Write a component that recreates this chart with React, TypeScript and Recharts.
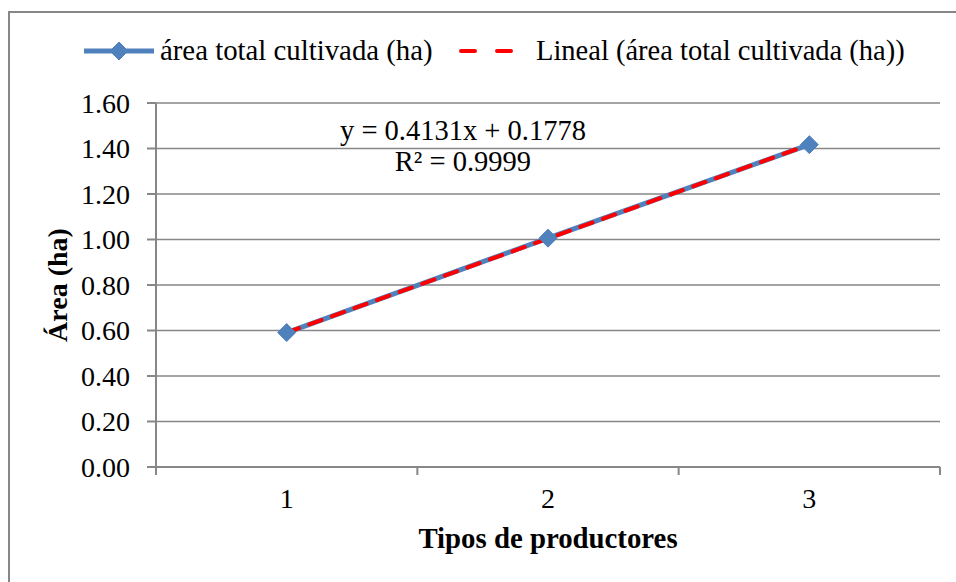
import { LineChart, Line, XAxis, YAxis, CartesianGrid, Legend } from "recharts";

// tipos de productores and their total cultivated area (ha)
const tipos = [1, 2, 3];
const areaTotal = [0.591, 1.006, 1.417];

// linear trend as reported on the chart
const trendSlope = 0.4131;
const trendIntercept = 0.1778;
const trendR2 = "0.9999";

const yTicks = [0, 0.2, 0.4, 0.6, 0.8, 1.0, 1.2, 1.4, 1.6];
const xTicks = [0.5, 1, 1.5, 2, 2.5, 3, 3.5];

const SERIES_NAME = "área total cultivada (ha)";
const TREND_NAME = "Lineal (área total cultivada (ha))";

const FONT = "'Liberation Serif', 'Times New Roman', serif";
const GRAY = "#878787";
const BLUE = "#4F81BD";
const RED = "#FF0000";

const data = tipos.map((t, i) => ({
  tipo: t,
  area: areaTotal[i],
  lineal: trendSlope * t + trendIntercept,
}));

const Diamond = ({ cx, cy, r = 9 }: { cx: number; cy: number; r?: number }) => (
  <path
    d={`M${cx},${cy - r} L${cx + r},${cy} L${cx},${cy + r} L${cx - r},${cy} Z`}
    fill={BLUE}
    stroke={BLUE}
    strokeWidth={1}
  />
);

// category labels sit on whole numbers, tick marks on the band edges
const XTick = ({ x, y, payload }: any) => {
  const v = payload.value;
  if (Number.isInteger(v)) {
    return (
      <text x={x} y={y + 41} textAnchor="middle" fontFamily={FONT} fontSize={28} fill="#000">
        {v}
      </text>
    );
  }
  return <line x1={x} y1={y} x2={x} y2={y + 8} stroke={GRAY} strokeWidth={2} />;
};

const LegendBox = () => (
  <svg width={956} height={80}>
    <line x1={84} y1={51} x2={154} y2={51} stroke={BLUE} strokeWidth={5} />
    <Diamond cx={119} cy={51} />
    <text x={160} y={60} fontFamily={FONT} fontSize={28.8} fill="#000">
      {SERIES_NAME}
    </text>
    <line
      x1={461}
      y1={51}
      x2={511}
      y2={51}
      stroke={RED}
      strokeWidth={4}
      strokeDasharray="14 22"
      strokeLinecap="round"
    />
    <text x={536} y={60} fontFamily={FONT} fontSize={28.5} fill="#000">
      {TREND_NAME}
    </text>
  </svg>
);

export default function App() {
  return (
    <div style={{ position: "fixed", left: 0, top: 0, width: 956, height: 582, overflow: "hidden", background: "#fff" }}>
      <LineChart width={956} height={582} data={data} margin={{ top: 103, right: 16, bottom: 0, left: 0 }}>
        <CartesianGrid vertical={false} stroke={GRAY} strokeWidth={1.6} />
        <XAxis
          dataKey="tipo"
          type="number"
          domain={[0.5, 3.5]}
          ticks={xTicks}
          interval={0}
          height={115}
          tickLine={false}
          tickSize={0}
          tickMargin={0}
          tick={<XTick />}
          axisLine={{ stroke: GRAY, strokeWidth: 2 }}
          label={{
            content: ({ viewBox }: any) => (
              <text
                x={viewBox.x + viewBox.width / 2}
                y={viewBox.y + 81}
                textAnchor="middle"
                fontFamily={FONT}
                fontSize={28.8}
                fontWeight="bold"
                fill="#000"
              >
                Tipos de productores
              </text>
            ),
          }}
        />
        <YAxis
          type="number"
          domain={[0, 1.6]}
          ticks={yTicks}
          interval={0}
          width={156}
          tickSize={9}
          tickMargin={17}
          tickFormatter={(v: number) => v.toFixed(2)}
          tick={{ fill: "#000", fontSize: 28, fontFamily: FONT }}
          axisLine={{ stroke: GRAY, strokeWidth: 2 }}
          tickLine={{ stroke: GRAY, strokeWidth: 2 }}
          label={{
            content: ({ viewBox }: any) => {
              const cx = viewBox.x + 67;
              const cy = viewBox.y + viewBox.height / 2;
              return (
                <text
                  x={cx}
                  y={cy}
                  transform={`rotate(-90 ${cx} ${cy})`}
                  textAnchor="middle"
                  fontFamily={FONT}
                  fontSize={28}
                  fontWeight="bold"
                  fill="#000"
                >
                  Área (ha)
                </text>
              );
            },
          }}
        />
        <Legend
          layout="vertical"
          verticalAlign="middle"
          align="center"
          content={<LegendBox />}
          wrapperStyle={{ position: "absolute", top: 0, left: 0, width: 956, height: 80 }}
        />
        <Line
          dataKey="area"
          name={SERIES_NAME}
          stroke={BLUE}
          strokeWidth={5}
          isAnimationActive={false}
          dot={(p: any) => <Diamond key={`d-${p.index}`} cx={p.cx} cy={p.cy} />}
          activeDot={false}
        />
        <Line
          dataKey="lineal"
          name={TREND_NAME}
          stroke={RED}
          strokeWidth={4}
          strokeDasharray="13 11"
          strokeLinecap="round"
          dot={false}
          activeDot={false}
          isAnimationActive={false}
        />
      </LineChart>
      <svg
        width={956}
        height={582}
        style={{ position: "absolute", left: 0, top: 0, pointerEvents: "none" }}
      >
        <rect x={9} y={12} width={1200} height={1200} fill="none" stroke={GRAY} strokeWidth={2} />
        <text x={463} y={140} textAnchor="middle" fontFamily={FONT} fontSize={28.5} fill="#000">
          {`y = ${trendSlope}x + ${trendIntercept}`}
        </text>
        <text x={463} y={171} textAnchor="middle" fontFamily={FONT} fontSize={28.5} fill="#000">
          {`R² = ${trendR2}`}
        </text>
      </svg>
    </div>
  );
}
